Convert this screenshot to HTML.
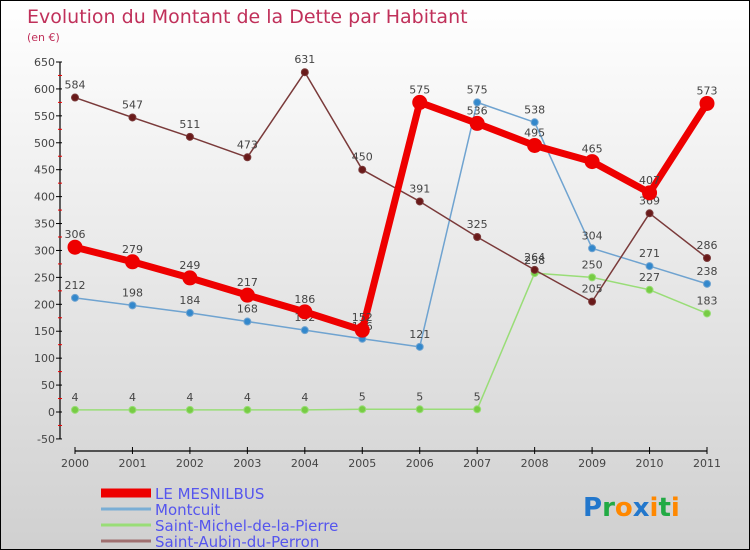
<!DOCTYPE html>
<html><head><meta charset="utf-8"><style>
body{margin:0}
#c{width:750px;height:550px;position:relative;box-sizing:border-box;border:1px solid #000;background:linear-gradient(#ffffff,#d0d0d0);font-family:"DejaVu Sans","Liberation Sans",sans-serif;overflow:hidden}
</style></head><body>
<div id="c">
<svg id="s" width="748" height="548" style="position:absolute;left:0;top:0"></svg>
</div>
<script>
const years=["2000","2001","2002","2003","2004","2005","2006","2007","2008","2009","2010","2011"];
const yTicks=[-50,0,50,100,150,200,250,300,350,400,450,500,550,600,650];
const mesnilbus=[306,279,249,217,186,152,575,536,495,465,407,573];
const montcuit=[212,198,184,168,152,136,121,575,538,304,271,238];
const stMichel=[4,4,4,4,4,5,5,5,258,250,227,183];
const stAubin=[584,547,511,473,631,450,391,325,264,205,369,286];
const seriesNames=["LE MESNILBUS","Montcuit","Saint-Michel-de-la-Pierre","Saint-Aubin-du-Perron"];
const s=document.getElementById('s');
const NS="http://www.w3.org/2000/svg";
function X(i){return 74+i*(706-74)/11;}
function Y(v){return 411-v*(350/650);}
function mk(t,a,txt){const e=document.createElementNS(NS,t);for(const k in a)e.setAttribute(k,a[k]);if(txt!==undefined)e.textContent=txt;s.appendChild(e);return e;}
let e;
e=mk('text',{x:26,y:22,fill:'#c0305a','font-size':19},'Evolution du Montant de la Dette par Habitant');

e=mk('text',{x:26,y:40,fill:'#c0305a','font-size':11},'(en €)');

// y axis
e=mk('line',{x1:59,y1:Y(650),x2:59,y2:Y(-50),stroke:'#000','stroke-width':1.2});

yTicks.forEach((v,i)=>{
 e=mk('line',{x1:55,y1:Y(v),x2:61,y2:Y(v),stroke:'#000'});
 
 if(i<yTicks.length-1){e=mk('line',{x1:57,y1:Y(v+25),x2:61,y2:Y(v+25),stroke:'#e00'});
 }
 e=mk('text',{x:54,y:Y(v)+4,'text-anchor':'end','font-size':11,fill:'#444'},String(v));
 
});
// x axis
e=mk('line',{x1:X(0),y1:450,x2:X(11),y2:450,stroke:'#000','stroke-width':1.2});

years.forEach((y,i)=>{
 e=mk('line',{x1:X(i),y1:446,x2:X(i),y2:453,stroke:'#000'});
 
 e=mk('text',{x:X(i),y:466,'text-anchor':'middle','font-size':11,fill:'#444'},y);
 
});
function series(vals,color,w,r,name,dot){
 e=mk('polyline',{points:vals.map((v,i)=>X(i)+','+Y(v)).join(' '),fill:'none',stroke:color,'stroke-width':w,'stroke-linejoin':'round'});
 
 vals.forEach((v,i)=>{
  e=mk('circle',{cx:X(i),cy:Y(v),r:r,fill:dot,stroke:color,'stroke-width':1});
  
  e=mk('text',{x:X(i),y:Y(v)-9,'text-anchor':'middle','font-size':11,fill:'#444'},String(v));
  
 });
}
series(stMichel,'#99dd77',1.5,3.5,'saint-michel','#77cc44');
series(montcuit,'#6fa3d0',1.5,3.5,'montcuit','#3388cc');
series(stAubin,'#7a3a3a',1.5,3.5,'saint-aubin','#6a1a1a');
series(mesnilbus,'#ee0000',7,7,'le-mesnilbus','#ee0000');
// legend
const lc=['#ee0000','#7aaed5','#99dd77','#a07070'],lw=[9,3,3,3];
seriesNames.forEach((n,i)=>{
 const y=492+i*16;
 e=mk('line',{x1:100,y1:y,x2:150,y2:y,stroke:lc[i],'stroke-width':lw[i]});
 
 e=mk('text',{x:154,y:y+6,'font-size':15,fill:'#5555ee'},n);
 
});
e=mk('text',{x:582,y:515,'font-size':26,'font-weight':'bold'});

[['P','#2277cc'],['r','#22aa44'],['o','#ff8800'],['x','#2277cc'],['i','#ff8800'],['t','#22aa44'],['i','#ff8800']].forEach(([c,col])=>{const t=document.createElementNS(NS,'tspan');t.setAttribute('fill',col);t.textContent=c;e.appendChild(t);});
</script>
</body></html>
